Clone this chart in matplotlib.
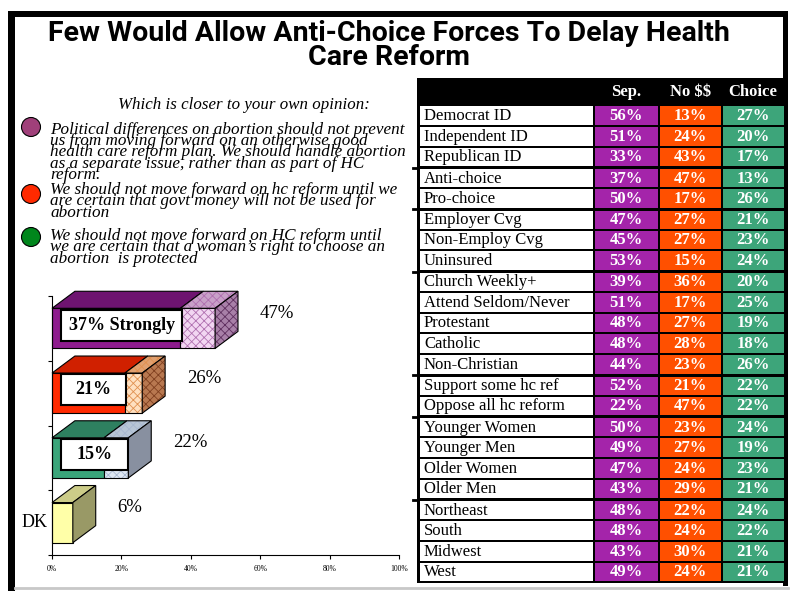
import matplotlib
matplotlib.use("Agg")
import matplotlib.pyplot as plt
from matplotlib.patches import Rectangle, Polygon, Ellipse

# ---------------- data ----------------
title = "Few Would Allow Anti-Choice Forces To Delay Health\nCare Reform"
question = "Which is closer to your own opinion:"
options = [
    ["Political differences on abortion should not prevent",
     "us from moving forward on an otherwise good",
     "health care reform plan. We should handle abortion",
     "as a separate issue, rather than as part of HC",
     "reform."],
    ["We should not move forward on hc reform until we",
     "are certain that govt money will not be used for",
     "abortion"],
    ["We should not move forward on HC reform until",
     "we are certain that a woman\u2019s right to choose an",
     "abortion  is protected"],
]

bar_totals = [47, 26, 22, 6]          # Sep., No $$, Choice, DK (top to bottom)
bar_strong = [37, 21, 15, None]
bar_box_text = ["37% Strongly", "21%", "15%", None]
bar_cat = ["", "", "", "DK"]
xticks = [0, 20, 40, 60, 80, 100]

headers = ["Sep.", "No $$", "Choice"]
row_labels = ["Democrat ID", "Independent ID", "Republican ID", "Anti-choice",
              "Pro-choice", "Employer Cvg", "Non-Employ Cvg", "Uninsured",
              "Church Weekly+", "Attend Seldom/Never", "Protestant", "Catholic",
              "Non-Christian", "Support some hc ref", "Oppose all hc reform",
              "Younger Women", "Younger Men", "Older Women", "Older Men",
              "Northeast", "South", "Midwest", "West"]
sep = [56, 51, 33, 37, 50, 47, 45, 53, 39, 51, 48, 48, 44, 52, 22, 50, 49, 47, 43, 48, 48, 43, 49]
nomoney = [13, 24, 43, 47, 17, 27, 27, 15, 36, 17, 27, 28, 23, 21, 47, 23, 27, 24, 29, 22, 24, 30, 24]
choice = [27, 20, 17, 13, 26, 21, 23, 24, 20, 25, 19, 18, 26, 22, 22, 24, 19, 23, 21, 24, 22, 21, 21]
group_breaks = [2, 4, 7, 12, 14, 18]   # thick line after these rows

# ---------------- style ----------------
W, H = 791, 591
SERIF = ["Liberation Serif", "DejaVu Serif"]
plt.rcParams["hatch.linewidth"] = 0.6

fig = plt.figure(figsize=(W / 100, H / 100), dpi=100)
bg = fig.add_axes([0, 0, 1, 1])
bg.set_xlim(0, W)
bg.set_ylim(H, 0)
bg.axis("off")

# frame
bg.add_patch(Rectangle((8, 11), 7, 580, color="black", lw=0))
bg.add_patch(Rectangle((8, 11), 780, 6, color="black", lw=0))
bg.add_patch(Rectangle((783, 11), 5, 575, color="black", lw=0))
bg.plot([15, 788], [587.5, 587.5], color="#c8c8c8", lw=2)

# title
bg.text(389, 20, title, ha="center", va="top", fontsize=20.5, fontweight="bold",
        family=["Roboto", "DejaVu Sans"], linespacing=0.86)

# question + options
bg.text(244, 109, question, ha="center", va="baseline", fontsize=12.2,
        style="italic", family=SERIF)
circle_cols = ["#A0407A", "#FF2A00", "#00861C"]
circle_y = [127, 194, 237]
block_tops = [121.5, 182.0, 228.0]
for k, lines in enumerate(options):
    bg.add_patch(Ellipse((31, circle_y[k]), 19, 19, facecolor=circle_cols[k],
                         edgecolor="black", lw=0.8))
    bg.text(50, block_tops[k], "\n".join(lines), ha="left", va="top",
            fontsize=12.3, style="italic", family=SERIF, linespacing=0.62)

# ---------------- table ----------------
tx0, tx1 = 417, 786
ty0, hdr_h = 77.5, 27.5
rh = 20.75
col_x = [(419.5, 592.5), (594.5, 657.5), (659.5, 721.0), (722.5, 783.5)]
cell_cols = ["white", "#A424AA", "#FF5000", "#3DA57A"]
n = len(row_labels)
tbot = ty0 + hdr_h + n * rh
bg.add_patch(Rectangle((tx0, ty0), tx1 - tx0, tbot - ty0 + 1, color="black", lw=0))
for c, h in enumerate(headers):
    cx = (col_x[c + 1][0] + col_x[c + 1][1]) / 2
    bg.text(cx, ty0 + hdr_h / 2 + 1, h, ha="center", va="center", color="white",
            fontsize=12, fontweight="bold", family=SERIF, parse_math=False)
for i in range(n):
    top = ty0 + hdr_h + i * rh
    gap_top = 2.0 if (i - 1) in group_breaks else 1.0
    y0 = top + gap_top
    y1 = top + rh - 1.0
    vals = [None, sep[i], nomoney[i], choice[i]]
    for c in range(4):
        xa, xb = col_x[c]
        bg.add_patch(Rectangle((xa, y0), xb - xa, y1 - y0, facecolor=cell_cols[c], lw=0))
    yc = (y0 + y1) / 2 + 0.5
    bg.text(424, yc, row_labels[i], ha="left", va="center", fontsize=12, family=SERIF)
    for c in range(1, 4):
        cx = (col_x[c][0] + col_x[c][1]) / 2
        bg.text(cx, yc, f"{vals[c]}%", ha="center", va="center", color="white",
                fontsize=12, fontweight="bold", family=SERIF)
    if i in group_breaks:
        bg.plot([413, tx0], [top + rh + 0.5] * 2, color="black", lw=2)

# ---------------- 3D bar chart ----------------
ax = fig.add_axes([52 / W, (H - 555) / H, 347 / W, 259 / H])
ax.set_xlim(0, 100)
ax.set_ylim(0, 4)
ax.patch.set_alpha(0)
for s in ["top", "right"]:
    ax.spines[s].set_visible(False)
ax.spines["left"].set_linewidth(0.8)
ax.spines["bottom"].set_linewidth(0.8)
ax.set_yticks([0, 1, 2, 3, 4])
ax.set_yticklabels([])
ax.tick_params(axis="y", direction="out", length=3, width=0.8)
ax.set_xticks(xticks)
ax.set_xticklabels([f"{t}%" for t in xticks], fontsize=5.5, family=SERIF)
ax.tick_params(axis="x", direction="out", length=3, width=0.8, pad=4)

dx, dy = 6.6, 0.263
front_c = ["#8E1C8E", "#FF2A00", "#3AA57A", "#FFFFA8"]
top_c = ["#6E1470", "#D02000", "#2E8060", "#CCCC88"]
light_front = ["#F2D6F2", "#FFE0C0", "#DDE6F2", None]
light_top = ["#C8A0C8", "#E0A070", "#B8C6D6", None]
light_hatch = ["#B070B0", "#E09050", "#A8B8D0", None]
side_c = ["#A880A8", "#B87850", "#8890A0", "#999966"]
side_hatch = ["#603060", "#804020", None, None]
box_end = [37.5, 21.2, 22.0]

def face(pts, fc, hatch=None, hc=None):
    if hatch:
        ax.add_patch(Polygon(pts, closed=True, facecolor=fc, edgecolor="none",
                             lw=0, clip_on=False))
        ax.add_patch(Polygon(pts, closed=True, fill=False, edgecolor=hc,
                             hatch=hatch, lw=0, clip_on=False))
        ax.add_patch(Polygon(pts, closed=True, fill=False, edgecolor="black",
                             lw=0.8, clip_on=False))
    else:
        ax.add_patch(Polygon(pts, closed=True, facecolor=fc, edgecolor="black",
                             lw=0.8, clip_on=False))

for i, tot in enumerate(bar_totals):
    k = 3 - i
    yb, yt = k + 0.19, k + 0.81
    st = bar_strong[i] if bar_strong[i] is not None else tot
    # front
    face([(0, yb), (st, yb), (st, yt), (0, yt)], front_c[i])
    if st < tot:
        face([(st, yb), (tot, yb), (tot, yt), (st, yt)], light_front[i], "xxxx", light_hatch[i])
    # top
    face([(0, yt), (st, yt), (st + dx, yt + dy), (dx, yt + dy)], top_c[i])
    if st < tot:
        face([(st, yt), (tot, yt), (tot + dx, yt + dy), (st + dx, yt + dy)],
             light_top[i], "xxxx", light_hatch[i])
    # side
    face([(tot, yb), (tot, yt), (tot + dx, yt + dy), (tot + dx, yb + dy)],
         side_c[i], "xxxx" if side_hatch[i] else None, side_hatch[i])
    # white label box
    if bar_box_text[i]:
        bx0, bx1 = 2.6, box_end[i]
        by0, by1 = yb + 0.12, yt - 0.02
        ax.add_patch(Rectangle((bx0, by0), bx1 - bx0, by1 - by0, facecolor="white",
                               edgecolor="black", lw=1.5, clip_on=False))
        ax.text((bx0 + bx1) / 2, (by0 + by1) / 2, bar_box_text[i], ha="center",
                va="center", fontsize=13, fontweight="bold", family=SERIF)
    # value label
    ax.text(tot + 12.8, yt - 0.08, f"{tot}%", ha="left", va="center",
            fontsize=13.5, family=SERIF, clip_on=False)
    if bar_cat[i]:
        ax.text(-1.3, k + 0.5, bar_cat[i], ha="right", va="center", fontsize=13,
                family=SERIF, clip_on=False)

fig.savefig("out.png", dpi=100)
